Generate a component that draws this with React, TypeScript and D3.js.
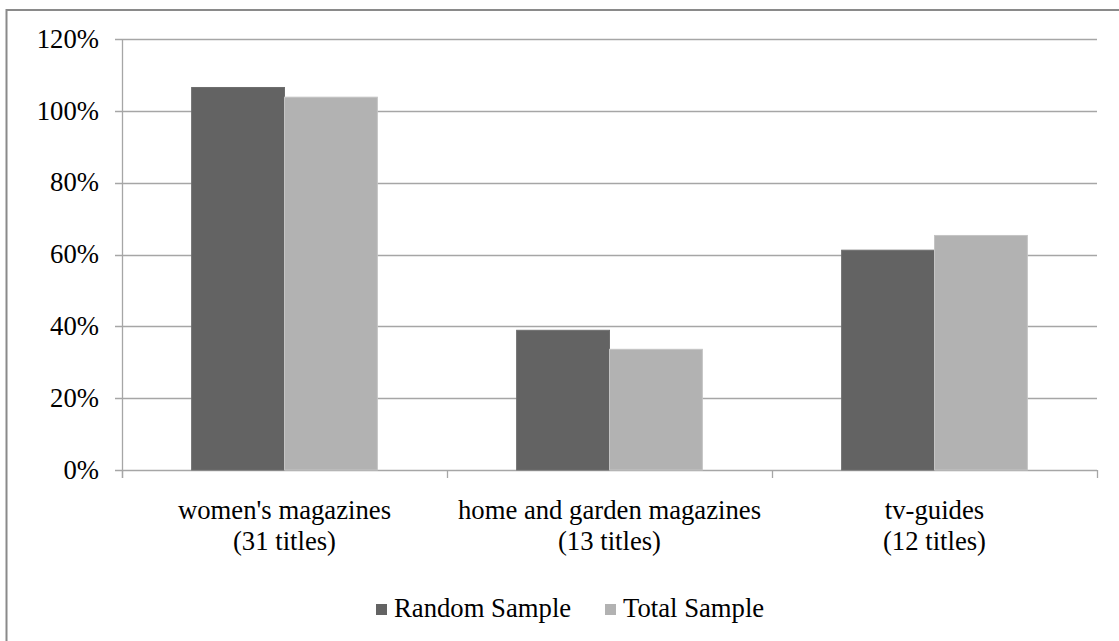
import React from "react";
import * as d3 from "d3";

const categories = ["women's magazines|(31 titles)", "home and garden magazines|(13 titles)", "tv-guides|(12 titles)"];
const seriesNames = ["Random Sample", "Total Sample"];
const randomSample = [106.5, 38.9, 61.2];
const totalSample = [103.8, 33.6, 65.3];
const yTicks = [0, 20, 40, 60, 80, 100, 120];
const colors = ["#636363", "#b2b2b2"];

const W = 1119, H = 641;
const left = 122, right = 1097, top = 39, bottom = 470;
const FONT = "Liberation Serif, Tinos, Times New Roman, serif";
const FS = 26.7;

export default function App() {
  const x = d3.scaleBand<string>().domain(categories).range([left, right]).padding(0);
  const bw = x.bandwidth();
  const gap = (bw * 0.75) / 3.5;
  const xs = d3.scaleBand<string>().domain(seriesNames).range([gap, bw - gap]).padding(0);
  const y = d3.scaleLinear().domain([0, 120]).range([bottom, top]);
  const values = [randomSample, totalSample];
  const axisColor = "#a6a6a6";

  return (
    <div style={{ position: "absolute", left: 0, top: 0 }}>
      <svg width={W} height={H} style={{ display: "block", background: "#fff", fontFamily: FONT }}>
        <rect x={6.5} y={10} width={1300} height={1000} fill="#fff" stroke="#8a8a8a" strokeWidth={2} />
        {yTicks.map((t) => (
          <g key={t}>
            <line x1={left - 7} x2={right} y1={Math.round(y(t)) + 0.5} y2={Math.round(y(t)) + 0.5} stroke={axisColor} strokeWidth={1.3} />
            <text x={99} y={y(t)} dy="0.33em" textAnchor="end" style={{ fontFamily: FONT }} fontSize={FS} fill="#000">{t}%</text>
          </g>
        ))}
        <line x1={left + 0.5} x2={left + 0.5} y1={top} y2={bottom + 8} stroke={axisColor} strokeWidth={1.3} />
        {[...categories.map((c) => x(c)!), right].map((v, i) => (
          <line key={i} x1={v + 0.5} x2={v + 0.5} y1={bottom} y2={bottom + 8} stroke={axisColor} strokeWidth={1.3} />
        ))}
        {seriesNames.map((s, si) =>
          categories.map((c, ci) => (
            <rect
              key={s + c}
              x={x(c)! + xs(s)!}
              y={y(values[si][ci])}
              width={xs.bandwidth()}
              height={bottom - y(values[si][ci])}
              fill={colors[si]}
              stroke={si === 0 ? "#6e6e6e" : "#c4c4c4"}
              strokeWidth={1}
            />
          ))
        )}
        {categories.map((c) => {
          const lines = c.split("|");
          return (
            <text key={c} textAnchor="middle" style={{ fontFamily: FONT }} fontSize={FS} fill="#000">
              {lines.map((l, i) => (
                <tspan key={i} x={x(c)! + bw / 2} y={519 + i * 31}>{l}</tspan>
              ))}
            </text>
          );
        })}
        <g>
          <rect x={376} y={604} width={11} height={11} fill={colors[0]} />
          <text x={394} y={617} style={{ fontFamily: FONT }} fontSize={FS}>{seriesNames[0]}</text>
          <rect x={605} y={604} width={11} height={11} fill={colors[1]} />
          <text x={623} y={617} style={{ fontFamily: FONT }} fontSize={FS}>{seriesNames[1]}</text>
        </g>
      </svg>
    </div>
  );
}
